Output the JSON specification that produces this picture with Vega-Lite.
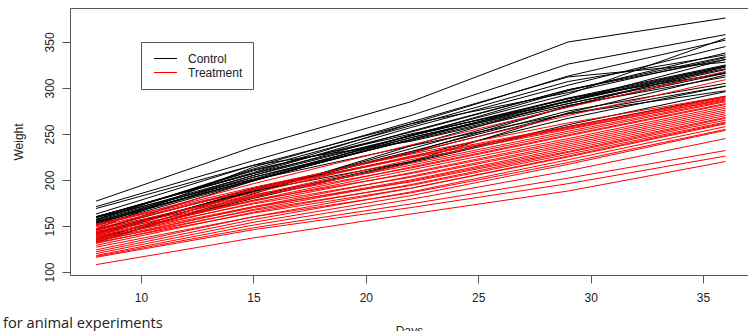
{
"$schema": "https://vega.github.io/schema/vega-lite/v6.json",
"width": 678, "height": 267,
"autosize": {"type": "none"},
"padding": {"left": 70, "top": 8, "right": 0, "bottom": 56},
"background": "white",
"config": {
  "view": {"stroke": "#555", "strokeWidth": 1},
  "font": "Liberation Sans",
  "axis": {"grid": false, "domain": false, "tickColor": "#555", "tickSize": 8, "labelFontSize": 12, "labelColor": "#222", "titleFontSize": 12, "titleFontWeight": "normal", "titleColor": "#222", "labelFont": "Liberation Sans", "titleFont": "Liberation Sans"}
},
"title": {"text": "for animal experiments", "orient": "bottom", "anchor": "start", "frame": "group", "font": "Open Sans", "fontSize": 14.7, "fontWeight": "normal", "color": "#222", "dx": -67, "dy": -20, "offset": 0},
"data": {"values": [
{"id":"C1","group":"Control","day":8,"weight":151},{"id":"C1","group":"Control","day":15,"weight":199},{"id":"C1","group":"Control","day":22,"weight":246},{"id":"C1","group":"Control","day":29,"weight":283},{"id":"C1","group":"Control","day":36,"weight":320},
{"id":"C2","group":"Control","day":8,"weight":145},{"id":"C2","group":"Control","day":15,"weight":199},{"id":"C2","group":"Control","day":22,"weight":249},{"id":"C2","group":"Control","day":29,"weight":293},{"id":"C2","group":"Control","day":36,"weight":354},
{"id":"C3","group":"Control","day":8,"weight":147},{"id":"C3","group":"Control","day":15,"weight":214},{"id":"C3","group":"Control","day":22,"weight":263},{"id":"C3","group":"Control","day":29,"weight":312},{"id":"C3","group":"Control","day":36,"weight":328},
{"id":"C4","group":"Control","day":8,"weight":155},{"id":"C4","group":"Control","day":15,"weight":200},{"id":"C4","group":"Control","day":22,"weight":237},{"id":"C4","group":"Control","day":29,"weight":272},{"id":"C4","group":"Control","day":36,"weight":297},
{"id":"C5","group":"Control","day":8,"weight":135},{"id":"C5","group":"Control","day":15,"weight":188},{"id":"C5","group":"Control","day":22,"weight":230},{"id":"C5","group":"Control","day":29,"weight":280},{"id":"C5","group":"Control","day":36,"weight":323},
{"id":"C6","group":"Control","day":8,"weight":159},{"id":"C6","group":"Control","day":15,"weight":210},{"id":"C6","group":"Control","day":22,"weight":252},{"id":"C6","group":"Control","day":29,"weight":298},{"id":"C6","group":"Control","day":36,"weight":331},
{"id":"C7","group":"Control","day":8,"weight":141},{"id":"C7","group":"Control","day":15,"weight":189},{"id":"C7","group":"Control","day":22,"weight":231},{"id":"C7","group":"Control","day":29,"weight":275},{"id":"C7","group":"Control","day":36,"weight":305},
{"id":"C8","group":"Control","day":8,"weight":159},{"id":"C8","group":"Control","day":15,"weight":201},{"id":"C8","group":"Control","day":22,"weight":248},{"id":"C8","group":"Control","day":29,"weight":297},{"id":"C8","group":"Control","day":36,"weight":338},
{"id":"C9","group":"Control","day":8,"weight":177},{"id":"C9","group":"Control","day":15,"weight":236},{"id":"C9","group":"Control","day":22,"weight":285},{"id":"C9","group":"Control","day":29,"weight":350},{"id":"C9","group":"Control","day":36,"weight":376},
{"id":"C10","group":"Control","day":8,"weight":134},{"id":"C10","group":"Control","day":15,"weight":182},{"id":"C10","group":"Control","day":22,"weight":220},{"id":"C10","group":"Control","day":29,"weight":260},{"id":"C10","group":"Control","day":36,"weight":296},
{"id":"C11","group":"Control","day":8,"weight":160},{"id":"C11","group":"Control","day":15,"weight":208},{"id":"C11","group":"Control","day":22,"weight":261},{"id":"C11","group":"Control","day":29,"weight":313},{"id":"C11","group":"Control","day":36,"weight":352},
{"id":"C12","group":"Control","day":8,"weight":143},{"id":"C12","group":"Control","day":15,"weight":188},{"id":"C12","group":"Control","day":22,"weight":220},{"id":"C12","group":"Control","day":29,"weight":273},{"id":"C12","group":"Control","day":36,"weight":314},
{"id":"C13","group":"Control","day":8,"weight":154},{"id":"C13","group":"Control","day":15,"weight":200},{"id":"C13","group":"Control","day":22,"weight":244},{"id":"C13","group":"Control","day":29,"weight":289},{"id":"C13","group":"Control","day":36,"weight":325},
{"id":"C14","group":"Control","day":8,"weight":171},{"id":"C14","group":"Control","day":15,"weight":221},{"id":"C14","group":"Control","day":22,"weight":270},{"id":"C14","group":"Control","day":29,"weight":326},{"id":"C14","group":"Control","day":36,"weight":358},
{"id":"C15","group":"Control","day":8,"weight":163},{"id":"C15","group":"Control","day":15,"weight":216},{"id":"C15","group":"Control","day":22,"weight":242},{"id":"C15","group":"Control","day":29,"weight":281},{"id":"C15","group":"Control","day":36,"weight":312},
{"id":"C16","group":"Control","day":8,"weight":160},{"id":"C16","group":"Control","day":15,"weight":207},{"id":"C16","group":"Control","day":22,"weight":248},{"id":"C16","group":"Control","day":29,"weight":288},{"id":"C16","group":"Control","day":36,"weight":324},
{"id":"C17","group":"Control","day":8,"weight":142},{"id":"C17","group":"Control","day":15,"weight":187},{"id":"C17","group":"Control","day":22,"weight":234},{"id":"C17","group":"Control","day":29,"weight":280},{"id":"C17","group":"Control","day":36,"weight":316},
{"id":"C18","group":"Control","day":8,"weight":156},{"id":"C18","group":"Control","day":15,"weight":203},{"id":"C18","group":"Control","day":22,"weight":243},{"id":"C18","group":"Control","day":29,"weight":283},{"id":"C18","group":"Control","day":36,"weight":317},
{"id":"C19","group":"Control","day":8,"weight":157},{"id":"C19","group":"Control","day":15,"weight":212},{"id":"C19","group":"Control","day":22,"weight":259},{"id":"C19","group":"Control","day":29,"weight":307},{"id":"C19","group":"Control","day":36,"weight":336},
{"id":"C20","group":"Control","day":8,"weight":152},{"id":"C20","group":"Control","day":15,"weight":203},{"id":"C20","group":"Control","day":22,"weight":246},{"id":"C20","group":"Control","day":29,"weight":286},{"id":"C20","group":"Control","day":36,"weight":321},
{"id":"C21","group":"Control","day":8,"weight":154},{"id":"C21","group":"Control","day":15,"weight":205},{"id":"C21","group":"Control","day":22,"weight":253},{"id":"C21","group":"Control","day":29,"weight":298},{"id":"C21","group":"Control","day":36,"weight":334},
{"id":"C22","group":"Control","day":8,"weight":139},{"id":"C22","group":"Control","day":15,"weight":190},{"id":"C22","group":"Control","day":22,"weight":225},{"id":"C22","group":"Control","day":29,"weight":267},{"id":"C22","group":"Control","day":36,"weight":302},
{"id":"C23","group":"Control","day":8,"weight":146},{"id":"C23","group":"Control","day":15,"weight":191},{"id":"C23","group":"Control","day":22,"weight":229},{"id":"C23","group":"Control","day":29,"weight":272},{"id":"C23","group":"Control","day":36,"weight":302},
{"id":"C24","group":"Control","day":8,"weight":157},{"id":"C24","group":"Control","day":15,"weight":211},{"id":"C24","group":"Control","day":22,"weight":250},{"id":"C24","group":"Control","day":29,"weight":285},{"id":"C24","group":"Control","day":36,"weight":323},
{"id":"C25","group":"Control","day":8,"weight":132},{"id":"C25","group":"Control","day":15,"weight":185},{"id":"C25","group":"Control","day":22,"weight":237},{"id":"C25","group":"Control","day":29,"weight":286},{"id":"C25","group":"Control","day":36,"weight":331},
{"id":"C26","group":"Control","day":8,"weight":160},{"id":"C26","group":"Control","day":15,"weight":207},{"id":"C26","group":"Control","day":22,"weight":257},{"id":"C26","group":"Control","day":29,"weight":303},{"id":"C26","group":"Control","day":36,"weight":345},
{"id":"C27","group":"Control","day":8,"weight":169},{"id":"C27","group":"Control","day":15,"weight":216},{"id":"C27","group":"Control","day":22,"weight":261},{"id":"C27","group":"Control","day":29,"weight":295},{"id":"C27","group":"Control","day":36,"weight":333},
{"id":"C28","group":"Control","day":8,"weight":157},{"id":"C28","group":"Control","day":15,"weight":205},{"id":"C28","group":"Control","day":22,"weight":248},{"id":"C28","group":"Control","day":29,"weight":289},{"id":"C28","group":"Control","day":36,"weight":316},
{"id":"C29","group":"Control","day":8,"weight":137},{"id":"C29","group":"Control","day":15,"weight":180},{"id":"C29","group":"Control","day":22,"weight":219},{"id":"C29","group":"Control","day":29,"weight":258},{"id":"C29","group":"Control","day":36,"weight":291},
{"id":"C30","group":"Control","day":8,"weight":153},{"id":"C30","group":"Control","day":15,"weight":200},{"id":"C30","group":"Control","day":22,"weight":244},{"id":"C30","group":"Control","day":29,"weight":286},{"id":"C30","group":"Control","day":36,"weight":324},
{"id":"T1","group":"Treatment","day":8,"weight":150},{"id":"T1","group":"Treatment","day":15,"weight":196},{"id":"T1","group":"Treatment","day":22,"weight":238},{"id":"T1","group":"Treatment","day":29,"weight":279},{"id":"T1","group":"Treatment","day":36,"weight":318},
{"id":"T2","group":"Treatment","day":8,"weight":147},{"id":"T2","group":"Treatment","day":15,"weight":190},{"id":"T2","group":"Treatment","day":22,"weight":230},{"id":"T2","group":"Treatment","day":29,"weight":270},{"id":"T2","group":"Treatment","day":36,"weight":309},
{"id":"T3","group":"Treatment","day":8,"weight":152},{"id":"T3","group":"Treatment","day":15,"weight":192},{"id":"T3","group":"Treatment","day":22,"weight":228},{"id":"T3","group":"Treatment","day":29,"weight":262},{"id":"T3","group":"Treatment","day":36,"weight":291},
{"id":"T4","group":"Treatment","day":8,"weight":145},{"id":"T4","group":"Treatment","day":15,"weight":186},{"id":"T4","group":"Treatment","day":22,"weight":226},{"id":"T4","group":"Treatment","day":29,"weight":258},{"id":"T4","group":"Treatment","day":36,"weight":290},
{"id":"T5","group":"Treatment","day":8,"weight":149},{"id":"T5","group":"Treatment","day":15,"weight":189},{"id":"T5","group":"Treatment","day":22,"weight":224},{"id":"T5","group":"Treatment","day":29,"weight":257},{"id":"T5","group":"Treatment","day":36,"weight":289},
{"id":"T6","group":"Treatment","day":8,"weight":143},{"id":"T6","group":"Treatment","day":15,"weight":183},{"id":"T6","group":"Treatment","day":22,"weight":222},{"id":"T6","group":"Treatment","day":29,"weight":255},{"id":"T6","group":"Treatment","day":36,"weight":288},
{"id":"T7","group":"Treatment","day":8,"weight":151},{"id":"T7","group":"Treatment","day":15,"weight":190},{"id":"T7","group":"Treatment","day":22,"weight":225},{"id":"T7","group":"Treatment","day":29,"weight":256},{"id":"T7","group":"Treatment","day":36,"weight":287},
{"id":"T8","group":"Treatment","day":8,"weight":141},{"id":"T8","group":"Treatment","day":15,"weight":181},{"id":"T8","group":"Treatment","day":22,"weight":218},{"id":"T8","group":"Treatment","day":29,"weight":253},{"id":"T8","group":"Treatment","day":36,"weight":286},
{"id":"T9","group":"Treatment","day":8,"weight":146},{"id":"T9","group":"Treatment","day":15,"weight":184},{"id":"T9","group":"Treatment","day":22,"weight":216},{"id":"T9","group":"Treatment","day":29,"weight":251},{"id":"T9","group":"Treatment","day":36,"weight":285},
{"id":"T10","group":"Treatment","day":8,"weight":138},{"id":"T10","group":"Treatment","day":15,"weight":178},{"id":"T10","group":"Treatment","day":22,"weight":214},{"id":"T10","group":"Treatment","day":29,"weight":249},{"id":"T10","group":"Treatment","day":36,"weight":283},
{"id":"T11","group":"Treatment","day":8,"weight":144},{"id":"T11","group":"Treatment","day":15,"weight":182},{"id":"T11","group":"Treatment","day":22,"weight":213},{"id":"T11","group":"Treatment","day":29,"weight":248},{"id":"T11","group":"Treatment","day":36,"weight":282},
{"id":"T12","group":"Treatment","day":8,"weight":140},{"id":"T12","group":"Treatment","day":15,"weight":177},{"id":"T12","group":"Treatment","day":22,"weight":211},{"id":"T12","group":"Treatment","day":29,"weight":245},{"id":"T12","group":"Treatment","day":36,"weight":280},
{"id":"T13","group":"Treatment","day":8,"weight":136},{"id":"T13","group":"Treatment","day":15,"weight":175},{"id":"T13","group":"Treatment","day":22,"weight":208},{"id":"T13","group":"Treatment","day":29,"weight":243},{"id":"T13","group":"Treatment","day":36,"weight":278},
{"id":"T14","group":"Treatment","day":8,"weight":142},{"id":"T14","group":"Treatment","day":15,"weight":178},{"id":"T14","group":"Treatment","day":22,"weight":207},{"id":"T14","group":"Treatment","day":29,"weight":241},{"id":"T14","group":"Treatment","day":36,"weight":276},
{"id":"T15","group":"Treatment","day":8,"weight":133},{"id":"T15","group":"Treatment","day":15,"weight":171},{"id":"T15","group":"Treatment","day":22,"weight":204},{"id":"T15","group":"Treatment","day":29,"weight":239},{"id":"T15","group":"Treatment","day":36,"weight":274},
{"id":"T16","group":"Treatment","day":8,"weight":139},{"id":"T16","group":"Treatment","day":15,"weight":174},{"id":"T16","group":"Treatment","day":22,"weight":203},{"id":"T16","group":"Treatment","day":29,"weight":237},{"id":"T16","group":"Treatment","day":36,"weight":272},
{"id":"T17","group":"Treatment","day":8,"weight":135},{"id":"T17","group":"Treatment","day":15,"weight":170},{"id":"T17","group":"Treatment","day":22,"weight":200},{"id":"T17","group":"Treatment","day":29,"weight":235},{"id":"T17","group":"Treatment","day":36,"weight":270},
{"id":"T18","group":"Treatment","day":8,"weight":131},{"id":"T18","group":"Treatment","day":15,"weight":168},{"id":"T18","group":"Treatment","day":22,"weight":199},{"id":"T18","group":"Treatment","day":29,"weight":233},{"id":"T18","group":"Treatment","day":36,"weight":268},
{"id":"T19","group":"Treatment","day":8,"weight":137},{"id":"T19","group":"Treatment","day":15,"weight":171},{"id":"T19","group":"Treatment","day":22,"weight":198},{"id":"T19","group":"Treatment","day":29,"weight":231},{"id":"T19","group":"Treatment","day":36,"weight":267},
{"id":"T20","group":"Treatment","day":8,"weight":129},{"id":"T20","group":"Treatment","day":15,"weight":165},{"id":"T20","group":"Treatment","day":22,"weight":195},{"id":"T20","group":"Treatment","day":29,"weight":230},{"id":"T20","group":"Treatment","day":36,"weight":265},
{"id":"T21","group":"Treatment","day":8,"weight":134},{"id":"T21","group":"Treatment","day":15,"weight":167},{"id":"T21","group":"Treatment","day":22,"weight":194},{"id":"T21","group":"Treatment","day":29,"weight":228},{"id":"T21","group":"Treatment","day":36,"weight":263},
{"id":"T22","group":"Treatment","day":8,"weight":124},{"id":"T22","group":"Treatment","day":15,"weight":160},{"id":"T22","group":"Treatment","day":22,"weight":191},{"id":"T22","group":"Treatment","day":29,"weight":226},{"id":"T22","group":"Treatment","day":36,"weight":262},
{"id":"T23","group":"Treatment","day":8,"weight":132},{"id":"T23","group":"Treatment","day":15,"weight":164},{"id":"T23","group":"Treatment","day":22,"weight":191},{"id":"T23","group":"Treatment","day":29,"weight":225},{"id":"T23","group":"Treatment","day":36,"weight":261},
{"id":"T24","group":"Treatment","day":8,"weight":122},{"id":"T24","group":"Treatment","day":15,"weight":157},{"id":"T24","group":"Treatment","day":22,"weight":187},{"id":"T24","group":"Treatment","day":29,"weight":222},{"id":"T24","group":"Treatment","day":36,"weight":258},
{"id":"T25","group":"Treatment","day":8,"weight":127},{"id":"T25","group":"Treatment","day":15,"weight":160},{"id":"T25","group":"Treatment","day":22,"weight":186},{"id":"T25","group":"Treatment","day":29,"weight":219},{"id":"T25","group":"Treatment","day":36,"weight":255},
{"id":"T26","group":"Treatment","day":8,"weight":120},{"id":"T26","group":"Treatment","day":15,"weight":154},{"id":"T26","group":"Treatment","day":22,"weight":183},{"id":"T26","group":"Treatment","day":29,"weight":217},{"id":"T26","group":"Treatment","day":36,"weight":254},
{"id":"T27","group":"Treatment","day":8,"weight":118},{"id":"T27","group":"Treatment","day":15,"weight":151},{"id":"T27","group":"Treatment","day":22,"weight":179},{"id":"T27","group":"Treatment","day":29,"weight":210},{"id":"T27","group":"Treatment","day":36,"weight":245},
{"id":"T28","group":"Treatment","day":8,"weight":117},{"id":"T28","group":"Treatment","day":15,"weight":148},{"id":"T28","group":"Treatment","day":22,"weight":174},{"id":"T28","group":"Treatment","day":29,"weight":202},{"id":"T28","group":"Treatment","day":36,"weight":232},
{"id":"T29","group":"Treatment","day":8,"weight":116},{"id":"T29","group":"Treatment","day":15,"weight":146},{"id":"T29","group":"Treatment","day":22,"weight":170},{"id":"T29","group":"Treatment","day":29,"weight":196},{"id":"T29","group":"Treatment","day":36,"weight":226},
{"id":"T30","group":"Treatment","day":8,"weight":108},{"id":"T30","group":"Treatment","day":15,"weight":137},{"id":"T30","group":"Treatment","day":22,"weight":163},{"id":"T30","group":"Treatment","day":29,"weight":188},{"id":"T30","group":"Treatment","day":36,"weight":220}
]},
"encoding": {
  "x": {"field": "day", "type": "quantitative", "scale": {"domain": [6.84, 37.0], "nice": false, "zero": false}, "axis": {"values": [10, 15, 20, 25, 30, 35], "title": "Days", "labelPadding": 9, "titlePadding": 22}},
  "y": {"field": "weight", "type": "quantitative", "scale": {"domain": [96.74, 386.9], "nice": false, "zero": false}, "axis": {"values": [100, 150, 200, 250, 300, 350], "labelAngle": -90, "title": "Weight", "labelPadding": 6, "titlePadding": 18}},
  "color": {"field": "group", "type": "nominal", "scale": {"domain": ["Control", "Treatment"], "range": ["#000000", "#ff0000"]},
    "legend": {"orient": "none", "legendX": 71, "legendY": 34, "title": null, "symbolType": "M-2,0H2", "symbolSize": 132, "symbolStrokeWidth": 1, "symbolOffset": 8, "labelFontSize": 12, "labelFont": "Liberation Sans", "labelColor": "#222", "labelOffset": 16, "padding": 10, "strokeColor": "#555", "fillColor": "white", "rowPadding": 1}},
  "detail": {"field": "id"}
},
"layer": [
  {"transform": [{"filter": "datum.group === 'Control'"}], "mark": {"type": "line", "strokeWidth": 1}},
  {"transform": [{"filter": "datum.group === 'Treatment'"}], "mark": {"type": "line", "strokeWidth": 1}}
]
}
